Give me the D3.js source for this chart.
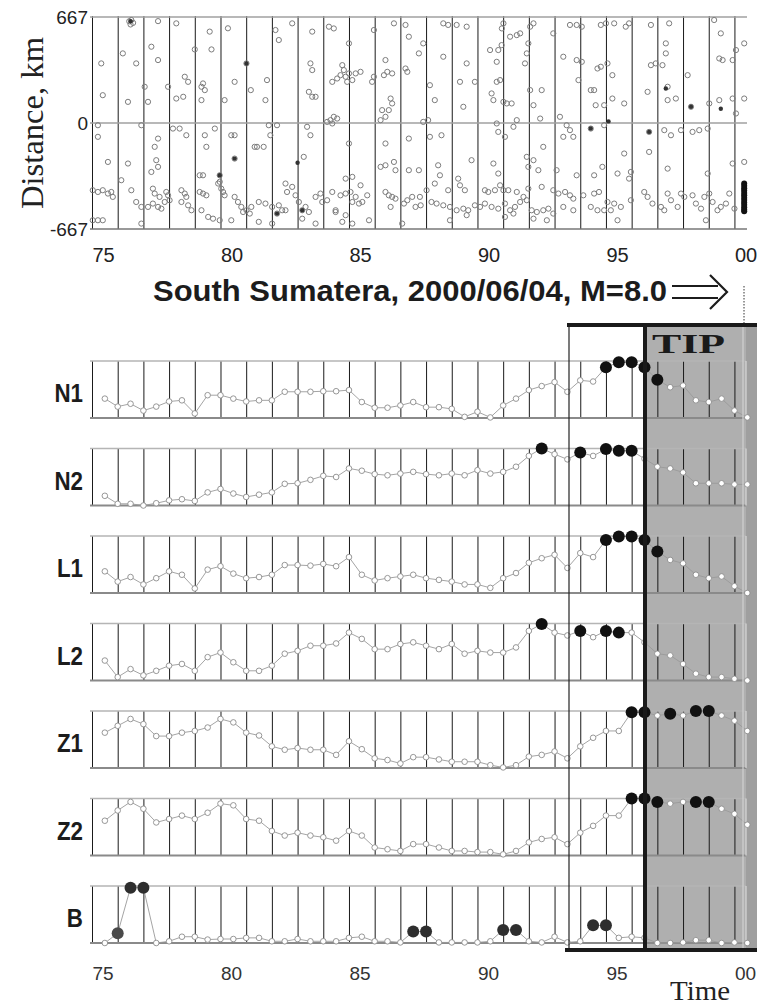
<!DOCTYPE html>
<html>
<head>
<meta charset="utf-8">
<script src="https://cdn.jsdelivr.net/npm/d3@7"></script>
<style>
	body { margin: 0; background: #fff; }
	svg { display: block; }
</style>
</head>
<body>
<div id="chart"></div>
<script>
// half-year diagnostic times (years since 1900)
var times = [75.5, 76, 76.5, 77, 77.5, 78, 78.5, 79, 79.5, 80, 80.5, 81, 81.5, 82, 82.5, 83, 83.5,
	84, 84.5, 85, 85.5, 86, 86.5, 87, 87.5, 88, 88.5, 89, 89.5, 90, 90.5, 91, 91.5, 92, 92.5,
	93, 93.5, 94, 94.5, 95, 95.5, 96, 96.5, 97, 97.5, 98, 98.5, 99, 99.5, 100, 100.5];

// normalized functions (0 = panel bottom, 1 = panel top)
var N1 = [.34, .20, .25, .13, .20, .29, .31, .08, .40, .40, .34, .29, .31, .31, .46, .46, .46, .47, .47, .49,
	.28, .18, .18, .22, .28, .19, .19, .16, .02, .11, .01, .22, .34, .49, .56, .63, .46, .66, .64, .89,
	.98, .98, .89, .67, .54, .57, .31, .28, .34, .13, .01];
var N2 = [.17, .03, .03, 0, .04, .09, .11, .08, .23, .29, .21, .15, .19, .23, .38, .39, .45, .52, .50, .65,
	.61, .55, .53, .56, .59, .55, .53, .56, .53, .62, .56, .59, .68, .87, 1, .90, .81, .93, .87, .99,
	.96, .96, .82, .68, .65, .58, .39, .39, .39, .37, .37];
var L1 = [.38, .20, .28, .15, .26, .38, .32, .08, .41, .47, .34, .26, .28, .32, .49, .49, .48, .51, .47, .63,
	.32, .22, .26, .29, .32, .26, .23, .20, .15, .15, .09, .26, .35, .53, .61, .67, .44, .70, .63, .93,
	.99, .99, .93, .73, .58, .52, .32, .26, .29, .12, 0];
var L2 = [.35, .06, .20, .09, .17, .26, .29, .17, .41, .49, .32, .17, .17, .26, .47, .52, .61, .61, .65, .84,
	.73, .55, .55, .64, .67, .61, .55, .64, .47, .52, .49, .49, .58, .87, .99, .84, .79, .87, .76, .87,
	.84, .84, .67, .47, .44, .29, .12, .06, .06, .03, 0];
var Z1 = [.62, .74, .86, .77, .56, .56, .62, .65, .71, .86, .80, .62, .57, .38, .32, .35, .32, .32, .23, .47,
	.33, .17, .14, .08, .19, .19, .15, .11, .11, .11, .05, .01, .05, .20, .23, .29, .17, .38, .53, .65,
	.65, .98, .98, .92, .95, .92, 1, 1, .92, .83, .65];
var Z2 = [.61, .79, .94, .82, .58, .64, .70, .64, .75, .91, .88, .64, .61, .43, .35, .40, .35, .32, .26, .43,
	.35, .14, .11, .08, .20, .20, .14, .08, .08, .06, .06, .02, .08, .23, .29, .32, .20, .40, .52, .70,
	.70, 1, 1, .94, .91, .94, .94, .94, .82, .73, .54];
var B = [0, .17, .97, .97, 0, .03, .11, .11, .06, .07, .07, .09, .09, .03, .03, .07, .03, .03, .03, .09,
	.11, .03, .03, .01, .20, .20, .01, .01, .01, .01, .03, .23, .23, .03, .01, .11, .01, .03, .31, .31,
	.09, .11, .09, 0, 0, .01, .05, .05, 0, .01, 0];

// indices of times where the function is "very large" (black dots)
var alarmN1 = [39, 40, 41, 42, 43];
var alarmN2 = [34, 37, 39, 40, 41];
var alarmL1 = [39, 40, 41, 42, 43];
var alarmL2 = [34, 37, 39, 40];
var alarmZ1 = [41, 42, 44, 46, 47];
var alarmZ2 = [41, 42, 43, 46, 47];
var alarmB = [1, 2, 3, 24, 25, 31, 32, 38, 39];

var panelNames = ["N1", "N2", "L1", "L2", "Z1", "Z2", "B"];

// epicenters: [year, distance km]
var quakes1975 = [[76.53,648],[76.45,640],[76.6,630],[76.5,620],[77.57,641],[78.28,627],[79.58,575],[80.29,596],
	[76.2,438],[77.31,480],[77.57,396],[75.36,375],[76.72,375],[79.0,463],[79.65,463],[81.01,375],
	[80.55,259],[78.61,291],[78.74,259],[77.96,228],[77.05,228],[79.26,228],[79.39,207],[79.32,249],
	[75.42,175],[76.4,133],[77.18,133],[78.28,154],[78.55,165],[79.26,144],[80.16,144],[81.18,207],
	[75.23,-14],[75.23,-87],[76.92,-14],[77.57,-98],[78.15,-35],[78.41,-35],[78.67,-77],[79.39,-77],[79.78,-35],[80.42,-77],[80.55,-77],
	[79.45,-150],[77.44,-150],[81.33,-150],[75.62,-245],[76.4,-255],[77.5,-234],[77.57,-276],[77.31,-308],[80.55,-224],
	[79.19,-329],[79.32,-329],[79.97,-329],[76.14,-360],[79.91,-381],[79.97,-370],
	[75.03,-423],[75.23,-434],[75.42,-423],[75.62,-444],[75.75,-434],[75.81,-465],
	[76.53,-423],[77.37,-413],[77.44,-444],[77.63,-465],[77.89,-434],[77.96,-455],[78.02,-486],[77.83,-497],
	[78.48,-423],[78.61,-444],[78.67,-465],[78.48,-497],[79.19,-434],[79.32,-444],[79.45,-455],
	[80.03,-413],[80.1,-434],[80.16,-455],[80.55,-465],[80.68,-497],[80.81,-528],[81.01,-549],[81.14,-570],[80.88,-560],[81.2,-528],
	[76.72,-497],[76.92,-528],[77.18,-528],[77.37,-507],[77.57,-528],[77.7,-539],
	[78.74,-518],[78.87,-549],[79.26,-549],[79.52,-591],[79.71,-602],[79.97,-612],
	[75.03,-612],[75.23,-612],[75.42,-612],[76.92,-633],[80.42,-612]];
var quakes1981 = [[82.14,585],[82.27,522],[82.79,627],[83.57,575],[84.22,606],[84.41,595],[85.0,501],[85.97,585],[86.75,627],[87.2,617],[87.33,543],[87.72,438],
	[83.5,375],[83.57,333],[84.74,364],[84.8,333],[84.67,301],[84.87,291],[85.0,312],[85.13,270],[84.93,259],[85.26,312],[85.45,322],[84.35,259],[84.54,280],
	[85.9,259],[85.97,291],[86.36,301],[86.42,396],[86.49,322],[86.68,312],[87.2,343],[87.27,322],
	[81.81,270],[81.75,144],[83.44,196],[83.57,165],[83.7,165],
	[86.62,154],[86.68,123],[86.55,81],[86.29,81],[86.42,39],[86.23,18],
	[84.28,18],[84.41,39],[84.54,28],[84.35,-3],[84.15,7],
	[81.88,-14],[82.2,-14],[81.94,-77],[83.37,-24],[83.5,-77],
	[81.42,-150],[81.68,-150],[83.24,-213],[85.0,-129],[86.42,-129],[87.33,-98],
	[86.23,-276],[86.42,-266],[86.75,-245],[86.81,-297],[87.33,-297],[87.72,-297],
	[85.13,-339],[85.45,-392],[84.87,-350],[82.53,-381],[82.79,-402],[82.59,-434],
	[81.49,-497],[81.75,-507],[82.01,-528],[82.27,-518],[82.4,-549],[82.2,-570],[82.53,-549],[82.92,-455],[83.05,-497],[83.18,-549],
	[83.31,-528],[83.44,-560],[83.7,-465],[83.89,-444],[83.96,-497],[84.15,-486],[84.35,-434],[84.48,-549],[84.67,-455],[84.87,-444],
	[85.06,-434],[85.13,-497],[85.26,-465],[85.39,-507],[85.52,-497],[85.71,-455],[86.42,-434],[86.55,-455],[86.68,-465],[86.62,-528],
	[86.81,-476],[87.14,-507],[87.27,-486],[87.46,-465],[87.59,-528],[87.79,-518],
	[81.49,-622],[82.01,-633],[83.18,-602],[83.7,-633],[84.48,-560],[84.74,-622],[85.13,-633],[85.78,-612],[87.07,-633],[84.87,-580]];
var quakes1988 = [[88.67,627],[88.86,617],[89.19,617],[89.58,606],[91.01,627],[90.95,595],[91.27,543],[91.53,553],[91.66,564],[92.05,606],
	[92.18,627],[92.95,564],[93.6,617],[93.86,617],[94.06,606],
	[87.89,501],[88.67,417],[89.58,375],[90.49,459],[90.81,459],[90.75,385],[90.94,490],[91.92,438],[91.85,375],[91.98,501],
	[93.34,417],[93.86,396],[94.06,385],
	[88.15,238],[88.34,144],[89.32,259],[89.45,102],[89.9,259],[90.62,144],[90.75,259],[90.88,270],[91.01,133],[91.14,123],
	[91.33,123],[90.55,186],[92.05,207],[92.5,207],[92.18,112],[93.93,270],
	[87.89,7],[88.08,18],[90.75,-3],[90.81,-56],[91.07,-87],[91.4,-24],[91.53,18],[92.44,28],[93.21,39],[93.47,-14],[93.6,-45],[93.73,-87],[93.34,-87],
	[88.15,-87],[88.6,-77],[89.77,-234],[90.62,-255],[90.81,-318],[91.92,-213],[92.18,-234],[92.37,-297],[91.98,-276],[92.56,-150],[93.08,-297],[93.86,-329],
	[88.47,-266],[88.54,-329],[88.34,-381],[88.02,-423],[88.86,-423],[89.25,-350],[89.32,-392],[89.51,-423],[90.29,-423],[90.42,-434],
	[90.68,-423],[90.88,-392],[91.01,-423],[91.2,-423],[91.53,-434],[91.79,-465],[91.98,-413],[92.5,-402],[92.95,-423],[93.15,-444],
	[93.41,-434],[93.6,-455],[93.73,-476],[94.12,-455],
	[87.76,-465],[88.21,-497],[88.41,-507],[88.67,-518],[88.93,-528],[89.19,-549],[89.45,-539],[89.64,-549],[89.9,-518],[90.1,-528],
	[90.29,-507],[90.55,-528],[90.81,-539],[91.07,-507],[91.27,-549],[91.46,-528],[91.66,-497],[91.92,-486],[92.11,-549],[92.31,-560],
	[92.56,-549],[92.76,-539],[92.95,-570],[93.34,-528],[93.73,-549],[88.93,-612],[89.58,-580],[91.07,-591],[91.4,-570],[92.18,-602],[92.7,-612]];
var quakes1994 = [[94.8,617],[95.0,627],[95.32,627],[95.77,606],[95.9,627],[96.75,617],[97.46,627],[99.21,648],[99.47,564],[100.38,501],[97.33,501],
	[94.67,343],[94.8,354],[95.06,375],[95.25,301],[96.75,364],[96.94,375],[97.2,364],[97.33,438],[98.18,301],[99.41,406],[99.54,396],[99.93,396],[100.06,459],
	[94.41,207],[94.54,207],[94.6,112],[94.93,112],[95.25,154],[95.71,123],[96.62,196],[97.4,228],[97.4,144],[97.72,154],[98.31,102],
	[99.02,123],[99.41,144],[99.93,154],[100.38,154],[100.06,60],
	[94.41,-35],[94.93,-14],[96.68,-56],[97.27,-45],[97.53,-77],[97.92,-45],[98.37,-56],[98.63,-45],[98.96,-35],
	[95.71,-192],[96.68,-182],[97.4,-287],[98.96,-318],[99.93,-255],[100.38,-245],[94.86,-276],[94.54,-329],[95.45,-318],[95.97,-308],[95.9,-350],
	[94.54,-444],[94.73,-434],[95.06,-497],[95.32,-507],[95.58,-528],[94.41,-528],[94.67,-549],[94.93,-549],[95.45,-612],[95.97,-486],
	[96.49,-434],[96.62,-465],[96.81,-507],[97.14,-528],[97.4,-444],[97.53,-486],[97.79,-528],[97.92,-444],[98.05,-465],[98.37,-455],
	[98.5,-507],[98.7,-539],[98.83,-465],[99.02,-444],[99.15,-497],[99.34,-549],[99.47,-528],[99.67,-507],[99.8,-444],[100.0,-539],
	[98.89,-612],[97.27,-549],[95.19,-549]];
var darkQuakes = [[76.5,640],[80.55,-224],[81.01,375],[79.97,-329],[82.2,-570],[83.18,-549],[83.0,-250],
	[97.33,217],[98.31,102],[96.68,-56],[94.41,-35],[99.47,90],[95.1,10]];
var aftershocks = [-380, -395, -410, -425, -440, -455, -470, -485, -500, -515, -530, -545, -555];

var yearLines = d3.range(75, 101);
var yearLabels = [75, 80, 85, 90, 95, 100];

var W = 757, H = 1007;
var svg = d3.select("#chart").append("svg")
	.attr("width", W)
	.attr("height", H)
	.style("font-family", "'Liberation Sans', Arial, sans-serif");

var x = d3.scaleLinear().domain([75, 100.45]).range([92, 746]);
var fmtYear = function(d) { return d == 100 ? "00" : d; };

// TIP shading goes under everything
svg.append("rect").attr("x", 645).attr("y", 325).attr("width", 112).attr("height", 626).attr("fill", "#afafaf");
svg.append("rect").attr("x", 746).attr("y", 325).attr("width", 11).attr("height", 626).attr("fill", "#9f9f9f");

// ---------- top panel: epicenters ----------
var yT = d3.scaleLinear().domain([-667, 667]).range([229, 17]);
var topG = svg.append("g");

topG.append("g")
	.attr("transform", "translate(0,229)")
	.call(d3.axisBottom(x).tickValues(yearLines).tickSize(-213).tickFormat(""))
	.call(function(g) { g.select(".domain").remove(); })
	.selectAll("line").attr("stroke", "#1a1a1a").attr("stroke-width", 1);

[667, 0, -667].forEach(function(v) {
	topG.append("line")
		.attr("x1", 90).attr("x2", 747)
		.attr("y1", yT(v)).attr("y2", yT(v))
		.attr("stroke", v == -667 ? "#777" : "#a0a0a0")
		.attr("stroke-width", 1.4);
});

var allQuakes = quakes1975.concat(quakes1981, quakes1988, quakes1994);
topG.selectAll("circle.q").data(allQuakes).join("circle")
	.attr("class", "q")
	.attr("cx", function(d) { return x(d[0]); })
	.attr("cy", function(d) { return yT(d[1]); })
	.attr("r", 2.6)
	.attr("fill", "none")
	.attr("stroke", "#7c7c7c")
	.attr("stroke-width", 1);

topG.selectAll("circle.dq").data(darkQuakes).join("circle")
	.attr("class", "dq")
	.attr("cx", function(d) { return x(d[0]); })
	.attr("cy", function(d) { return yT(d[1]); })
	.attr("r", 2.2)
	.attr("fill", "#333");

topG.selectAll("circle.af").data(aftershocks).join("circle")
	.attr("class", "af")
	.attr("cx", x(100.38))
	.attr("cy", function(d) { return yT(d); })
	.attr("r", 3)
	.attr("fill", "#111");

var yAx = topG.append("g")
	.attr("transform", "translate(92,0)")
	.call(d3.axisLeft(yT).tickValues([-667, 0, 667]).tickSize(0).tickPadding(4)
		.tickFormat(function(d) { return String(d); }));
yAx.select(".domain").remove();
yAx.selectAll("text").attr("font-size", 19).attr("fill", "#222")
	.attr("font-family", "'Liberation Sans', Arial, sans-serif");

var xAxTop = topG.append("g")
	.attr("transform", "translate(0,248)")
	.call(d3.axisBottom(x).tickValues(yearLabels).tickSize(0).tickPadding(0).tickFormat(fmtYear));
xAxTop.select(".domain").remove();
xAxTop.selectAll("text")
	.attr("text-anchor", "start").attr("dy", "0.72em")
	.attr("font-size", 20).attr("fill", "#222")
	.attr("font-family", "'Liberation Sans', Arial, sans-serif");

svg.append("text")
	.attr("transform", "translate(43,123) rotate(-90)")
	.attr("text-anchor", "middle")
	.attr("font-family", "'Liberation Serif', 'Times New Roman', serif")
	.attr("font-size", 31)
	.attr("fill", "#222")
	.attr("textLength", 172)
	.attr("lengthAdjust", "spacingAndGlyphs")
	.text("Distance, km");

// title with arrow
svg.append("text")
	.attr("x", 153).attr("y", 301)
	.attr("font-size", 29).attr("font-weight", "bold").attr("fill", "#1c1c1c")
	.attr("textLength", 514).attr("lengthAdjust", "spacingAndGlyphs")
	.text("South Sumatera, 2000/06/04, M=8.0");
svg.append("path")
	.attr("d", "M672,286H718M672,298H718M710,275L727,292L710,309")
	.attr("fill", "none").attr("stroke", "#1c1c1c").attr("stroke-width", 2.2);
svg.append("line")
	.attr("x1", 744).attr("x2", 744).attr("y1", 286).attr("y2", 325)
	.attr("stroke", "#333").attr("stroke-width", 1).attr("stroke-dasharray", "1.5,1.5");

// ---------- function panels ----------
var series = { N1: N1, N2: N2, L1: L1, L2: L2, Z1: Z1, Z2: Z2, B: B };
var alarms = { N1: alarmN1, N2: alarmN2, L1: alarmL1, L2: alarmL2, Z1: alarmZ1, Z2: alarmZ2, B: alarmB };
var ph = 57;
var yP = d3.scaleLinear().domain([0, 1]).range([ph, 0]);
var line = d3.line()
	.x(function(d, i) { return x(times[i]); })
	.y(function(d) { return yP(d); });

panelNames.forEach(function(name, k) {
	var top = 361 + k * 87.5;
	var g = svg.append("g").attr("transform", "translate(0," + top + ")");
	var vals = series[name];
	var al = alarms[name];

	g.append("g")
		.attr("transform", "translate(0," + ph + ")")
		.call(d3.axisBottom(x).tickValues(yearLines).tickSize(-ph).tickFormat(""))
		.call(function(a) { a.select(".domain").remove(); })
		.selectAll("line").attr("stroke", "#1a1a1a").attr("stroke-width", 1);

	g.append("line").attr("x1", 90).attr("x2", 746).attr("y1", 0).attr("y2", 0)
		.attr("stroke", "#b5b5b5").attr("stroke-width", 1.4);
	g.append("line").attr("x1", 90).attr("x2", 746).attr("y1", ph).attr("y2", ph)
		.attr("stroke", "#8a8a8a").attr("stroke-width", 2);
	g.append("line").attr("x1", 746).attr("x2", 746).attr("y1", 0).attr("y2", ph)
		.attr("stroke", "#d8d8d8").attr("stroke-width", 1.2);

	g.append("path").datum(vals)
		.attr("d", line)
		.attr("fill", "none").attr("stroke", "#9a9a9a").attr("stroke-width", 0.9);

	var pts = vals.map(function(v, i) { return { t: times[i], v: v, a: al.indexOf(i) >= 0, i: i }; });

	g.selectAll("circle.o").data(pts.filter(function(p) { return !p.a; })).join("circle")
		.attr("class", "o")
		.attr("cx", function(p) { return x(p.t); })
		.attr("cy", function(p) { return yP(p.v); })
		.attr("r", 2.8)
		.attr("fill", "#fff").attr("stroke", "#8c8c8c").attr("stroke-width", 0.9);

	g.selectAll("circle.f").data(pts.filter(function(p) { return p.a; })).join("circle")
		.attr("class", "f")
		.attr("cx", function(p) { return x(p.t); })
		.attr("cy", function(p) { return yP(p.v); })
		.attr("r", 6)
		.attr("fill", name == "B" ? (p => p.i == 1 ? "#4a4a4a" : "#2e2e2e") : "#111");

	g.append("text")
		.attr("transform", "translate(83,41) scale(0.86,1)")
		.attr("text-anchor", "end")
		.attr("font-size", 26).attr("font-weight", "bold").attr("fill", "#1c1c1c")
		.text(name);
});

// bottom time axis
var xAxBot = svg.append("g")
	.attr("transform", "translate(0,966)")
	.call(d3.axisBottom(x).tickValues(yearLabels).tickSize(0).tickPadding(0).tickFormat(fmtYear));
xAxBot.select(".domain").remove();
xAxBot.selectAll("text")
	.attr("text-anchor", "start").attr("dy", "0.72em")
	.attr("font-size", 19).attr("fill", "#333")
	.attr("font-family", "'Liberation Sans', Arial, sans-serif");

svg.append("text")
	.attr("x", 670).attr("y", 1000)
	.attr("font-family", "'Liberation Serif', 'Times New Roman', serif")
	.attr("font-size", 27).attr("fill", "#222")
	.attr("textLength", 60).attr("lengthAdjust", "spacingAndGlyphs")
	.text("Time");

// ---------- TIP frame ----------
svg.append("line").attr("x1", 569).attr("x2", 569).attr("y1", 325).attr("y2", 951)
	.attr("stroke", "#222").attr("stroke-width", 1.2);
svg.append("line").attr("x1", 567).attr("x2", 757).attr("y1", 325).attr("y2", 325)
	.attr("stroke", "#1a1a1a").attr("stroke-width", 4);
svg.append("line").attr("x1", 565).attr("x2", 757).attr("y1", 950).attr("y2", 950)
	.attr("stroke", "#1a1a1a").attr("stroke-width", 4);
svg.append("line").attr("x1", 645).attr("x2", 645).attr("y1", 323).attr("y2", 952)
	.attr("stroke", "#1a1a1a").attr("stroke-width", 4);
svg.append("line").attr("x1", 743).attr("x2", 743).attr("y1", 327).attr("y2", 948)
	.attr("stroke", "#d0d0d0").attr("stroke-width", 1.2);

svg.append("text")
	.attr("x", 652).attr("y", 353)
	.attr("font-family", "'Liberation Serif', 'Times New Roman', serif")
	.attr("font-size", 27).attr("font-weight", "bold").attr("fill", "#1a1a1a")
	.attr("textLength", 73).attr("lengthAdjust", "spacingAndGlyphs")
	.text("TIP");
</script>
</body>
</html>
